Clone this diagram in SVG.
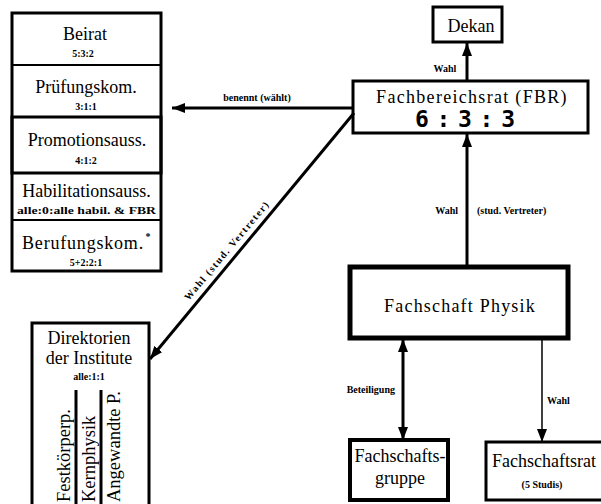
<svg xmlns="http://www.w3.org/2000/svg" width="601" height="504" viewBox="0 0 601 504">
<style>
.box{fill:#fff;stroke:#000}
.t{font-family:'Liberation Serif','Times New Roman',serif;font-size:18px;fill:#000;text-anchor:middle}
.s{font-family:'Liberation Serif','Times New Roman',serif;font-size:10px;font-weight:bold;fill:#000;text-anchor:middle}
.r{font-family:'Liberation Serif','Times New Roman',serif;font-size:18.5px;fill:#000;text-anchor:start}
.c{stroke:#000;fill:none}
</style>
<defs>
<marker id="ah" markerUnits="userSpaceOnUse" markerWidth="14" markerHeight="10" refX="13" refY="5" orient="auto-start-reverse">
<path d="M0,0 L13,5 L0,10 Z" fill="#000"/>
</marker>
</defs>
<rect width="601" height="504" fill="#fff"/>
<g id="kommissionen">
<rect class="box" x="12" y="13" width="149" height="258" stroke-width="3"/>
<line class="c" x1="12" y1="65" x2="161" y2="65" stroke-width="2"/>
<line class="c" x1="12" y1="117" x2="161" y2="117" stroke-width="2"/>
<line class="c" x1="12" y1="173" x2="161" y2="173" stroke-width="2"/>
<line class="c" x1="12" y1="220" x2="161" y2="220" stroke-width="2"/>
<rect x="12" y="117" width="149" height="56" fill="none" stroke="#000" stroke-width="3"/>
<text class="t" x="85" y="40">Beirat</text>
<text class="s" x="83" y="57">5:3:2</text>
<text class="t" x="86" y="93">Prüfungskom.</text>
<text class="s" x="86" y="110">3:1:1</text>
<text class="t" x="87" y="146">Promotionsauss.</text>
<text class="s" x="86" y="164">4:1:2</text>
<text class="t" x="86.5" y="197" font-size="18.5">Habilitationsauss.</text>
<text class="s" x="86.5" y="214" textLength="139" lengthAdjust="spacingAndGlyphs">alle:0:alle habil. &amp; FBR</text>
<text class="t" x="83" y="249" letter-spacing="0.8">Berufungskom.</text>
<text class="s" x="148" y="240">*</text>
<text class="s" x="86" y="266">5+2:2:1</text>
</g>
<g id="dekan">
<rect class="box" x="433" y="7" width="69" height="35" stroke-width="3"/>
<text class="t" x="471" y="32">Dekan</text>
</g>
<g id="fbr">
<rect class="box" x="353" y="81" width="235" height="52" stroke-width="3"/>
<text class="t" x="472" y="103" font-size="22" letter-spacing="1.3">Fachbereichsrat (FBR)</text>
<text x="465" y="127" font-family="'DejaVu Sans Mono','Liberation Mono',monospace" font-weight="bold" font-size="23" text-anchor="middle" textLength="100" lengthAdjust="spacing">6:3:3</text>
</g>
<g id="direktorien">
<rect class="box" x="32" y="323" width="117" height="190" stroke-width="3"/>
<text class="t" x="89" y="344" font-size="17">Direktorien</text>
<text class="t" x="89" y="364" font-size="17">der Institute</text>
<text class="s" x="89" y="380">alle:1:1</text>
<line class="c" x1="76" y1="390" x2="76" y2="504" stroke-width="3"/>
<line class="c" x1="101" y1="390" x2="101" y2="504" stroke-width="3"/>
<text class="r" transform="translate(70,502) rotate(-90)">Festkörperp.</text>
<text class="r" transform="translate(95,502) rotate(-90)">Kernphysik</text>
<text class="r" transform="translate(120,502) rotate(-90)">Angewandte P.</text>
</g>
<g id="fachschaft-physik">
<rect class="box" x="350" y="267" width="218" height="71" stroke-width="5"/>
<text class="t" x="460" y="312" font-size="22" letter-spacing="1.2">Fachschaft Physik</text>
</g>
<g id="fachschaftsgruppe">
<rect class="box" x="350" y="440" width="98" height="60" stroke-width="4"/>
<text class="t" x="400" y="462" font-size="16.5">Fachschafts-</text>
<text class="t" x="400" y="484" font-size="17">gruppe</text>
</g>
<g id="fachschaftsrat">
<rect class="box" x="486" y="442" width="120" height="58" stroke-width="3"/>
<text class="t" x="544" y="467" font-size="19">Fachschaftsrat</text>
<text class="s" x="542" y="488" font-size="9">(5 Studis)</text>
</g>
<g id="connectors">
<line class="c" x1="353" y1="108" x2="172" y2="108" stroke-width="3" marker-end="url(#ah)"/>
<text class="s" x="257" y="101" font-size="9.5">benennt (wählt)</text>
<line class="c" x1="467" y1="81" x2="467" y2="43" stroke-width="3" marker-end="url(#ah)"/>
<text class="s" x="445" y="72" font-size="9">Wahl</text>
<line class="c" x1="467" y1="267" x2="467" y2="134" stroke-width="3" marker-end="url(#ah)"/>
<text class="s" x="458" y="214" font-size="9.5" style="text-anchor:end">Wahl</text>
<text class="s" x="477" y="214" font-size="9.5" style="text-anchor:start">(stud. Vertreter)</text>
<line class="c" x1="354" y1="113" x2="150" y2="359" stroke-width="3" marker-end="url(#ah)"/>
<text class="s" transform="translate(229,253) rotate(-50)" font-size="10" textLength="125" lengthAdjust="spacing">Wahl (stud. Vertreter)</text>
<line class="c" x1="403" y1="339" x2="403" y2="440" stroke-width="3" marker-start="url(#ah)" marker-end="url(#ah)"/>
<text class="s" x="395" y="393" font-size="9.5" style="text-anchor:end">Beteiligung</text>
<line class="c" x1="542" y1="338" x2="542" y2="442" stroke-width="1.5" marker-end="url(#ah)"/>
<text class="s" x="547" y="404" font-size="9.5" style="text-anchor:start">Wahl</text>
</g>
</svg>
